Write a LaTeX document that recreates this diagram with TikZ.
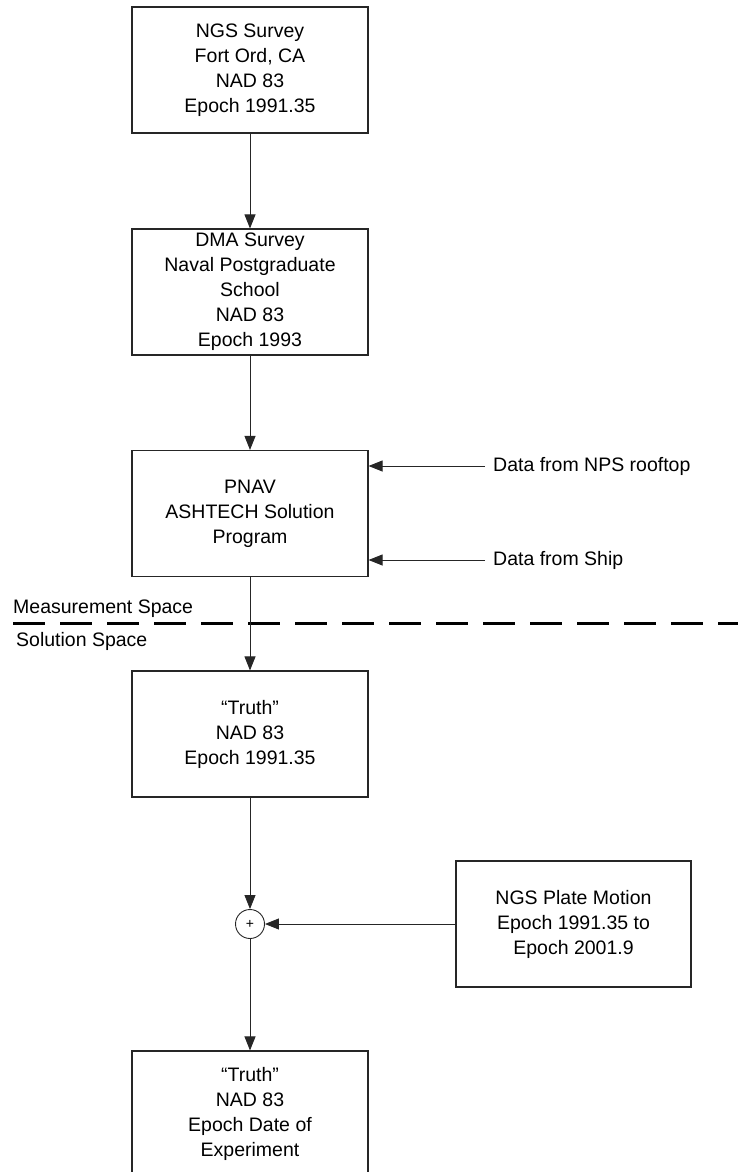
\documentclass[tikz,border=0pt]{standalone}
\usepackage{fontspec}
\setmainfont{Liberation Sans}
\usetikzlibrary{arrows.meta,positioning}

\begin{document}
\begin{tikzpicture}[x=1pt,y=-1pt]
 \tikzset{
Stage/.style = {rectangle, draw=black!85, line width=1.1pt, minimum width=236pt, minimum height=126pt, inner sep=0pt, align=center, font=\fontsize{19.5}{25}\selectfont},
note/.style = {anchor=west, inner sep=0pt, font=\fontsize{19.5}{25}\selectfont},
sum/.style = {circle, draw=black!85, line width=0.9pt, minimum size=29pt, inner sep=0pt, font=\fontsize{14}{14}\selectfont},
flow/.style = {draw=black!85, line width=0.9pt, -{Triangle[length=14pt,width=11pt]}},
divider/.style = {line width=3.3pt, dash pattern=on 32pt off 15pt}}

\useasboundingbox (0,0) rectangle (738,1172);

     \node [Stage] (NGS) at (250,70) {NGS Survey\\Fort Ord, CA\\NAD 83\\Epoch 1991.35};
     \node [Stage] (DMA) at (250,292) {DMA Survey\\Naval Postgraduate\\School\\NAD 83\\Epoch 1993};
     \node [Stage] (PNAV) at (250,513.5) {PNAV\\ASHTECH Solution\\Program};
     \node [Stage] (Truth1) at (250,734) {“Truth”\\NAD 83\\Epoch 1991.35};
     \node [sum] (Sum) at (250,924) {+};
     \node [Stage, minimum width=235pt] (Plate) at (573.5,924) {NGS Plate Motion\\Epoch 1991.35 to\\Epoch 2001.9};
     \node [Stage] (Truth2) at (250,1114) {“Truth”\\NAD 83\\Epoch Date of\\Experiment};

     \node [note] (Roof) at (493,466) {Data from NPS rooftop};
     \node [note] (Ship) at (493,560) {Data from Ship};
     \node [note] (Meas) at (13,609) {Measurement Space};
     \node [note] (Sol) at (16,641) {Solution Space};

      \coordinate (DivL) at (13,623.5);
      \coordinate (DivR) at (742,623.5);
      \draw [divider] (DivL) -- (DivR);

      \draw [flow] (NGS) -- (DMA);
      \draw [flow] (DMA) -- (PNAV);
      \draw [flow] (PNAV) -- (Truth1);
      \draw [flow] (Truth1) -- (Sum);
      \draw [flow] (Plate) -- (Sum);
      \draw [flow] (Sum) -- (Truth2);
      \draw [flow] ([xshift=-8pt]Roof.west) -- (Roof.west -| PNAV.east);
      \draw [flow] ([xshift=-8pt]Ship.west) -- (Ship.west -| PNAV.east);

  \end{tikzpicture}
\end{document}
